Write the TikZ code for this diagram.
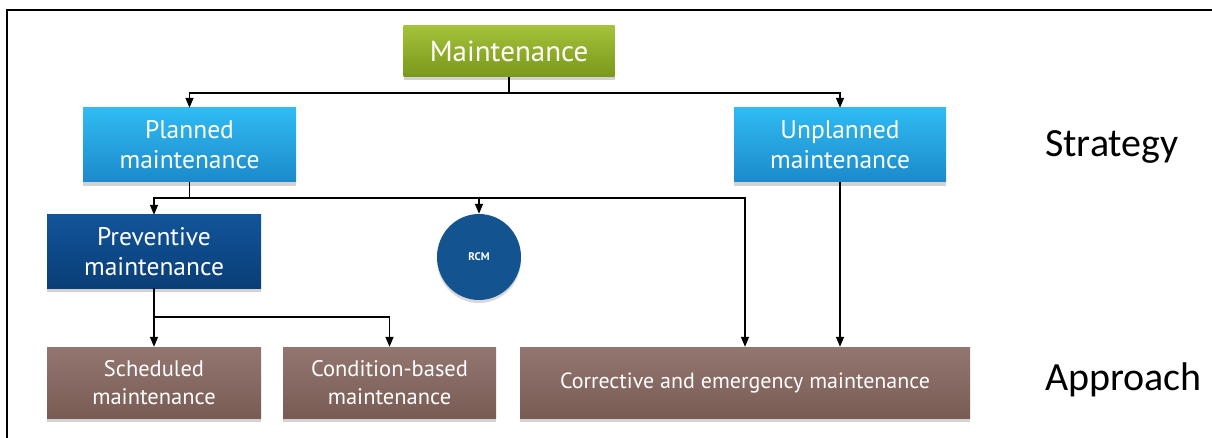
\documentclass[tikz,border=0pt]{standalone}
\usepackage{fontspec}
\setmainfont{PT Sans}
\newfontfamily\labelfont{Carlito}
\usetikzlibrary{arrows.meta,shadows,shapes.geometric}

\definecolor{greenTop}{HTML}{A4C23A}
\definecolor{greenBot}{HTML}{7A981B}
\definecolor{lblueTop}{HTML}{30BBF3}
\definecolor{lblueBot}{HTML}{1B8ACA}
\definecolor{dblueTop}{HTML}{115499}
\definecolor{dblueBot}{HTML}{0A3E77}
\definecolor{brownTop}{HTML}{937670}
\definecolor{brownBot}{HTML}{785C54}
\definecolor{rcmBlue}{HTML}{13538F}

\tikzset{
  box/.style={rectangle, inner sep=0pt, align=center, text=white,
    drop shadow={opacity=0.35, shadow xshift=0pt, shadow yshift=-4pt}},
  greenbox/.style={box, top color=greenTop, bottom color=greenBot},
  lbluebox/.style={box, top color=lblueTop, bottom color=lblueBot},
  dbluebox/.style={box, top color=dblueTop, bottom color=dblueBot},
  brownbox/.style={box, top color=brownTop, bottom color=brownBot},
  conn/.style={draw=black, line width=1.4pt},
  arr/.style={conn, -{Triangle[length=10pt,width=8pt]}},
  sidelabel/.style={font=\labelfont\fontsize{40}{44}\selectfont, text=black,
    inner sep=0pt, anchor=base west}
}

\begin{document}
\begin{tikzpicture}[x=1pt,y=-1pt]
\useasboundingbox (0,0) rectangle (1212,438);
\fill[white] (0,0) rectangle (1212,438);
% outer frame, open to the right and bottom
\draw[line width=1.4pt] (7,440) -- (7,10) -- (1214,10);

% nodes
\node[greenbox, minimum width=211pt, minimum height=51pt,
      font=\fontsize{29}{32}\selectfont] (M) at (509,51) {Maintenance};
\node[lbluebox, minimum width=213pt, minimum height=74pt,
      font=\fontsize{25.5}{30}\selectfont] (P) at (189.5,145) {Planned\\maintenance};
\node[lbluebox, minimum width=212pt, minimum height=74pt,
      font=\fontsize{25.5}{30}\selectfont] (U) at (840,145) {Unplanned\\maintenance};
\node[dbluebox, minimum width=214pt, minimum height=73pt,
      font=\fontsize{25.5}{30}\selectfont] (V) at (154,251.5) {Preventive\\maintenance};
\node[ellipse, inner sep=0pt, minimum width=84pt, minimum height=86pt,
      fill=rcmBlue, text=white, font=\bfseries\fontsize{11}{12}\selectfont,
      drop shadow={opacity=0.3, shadow xshift=0pt, shadow yshift=-3pt}] (R) at (479,257) {RCM};
\node[brownbox, minimum width=214pt, minimum height=71pt,
      font=\fontsize{22.5}{28}\selectfont] (S) at (154,382.5) {Scheduled\\maintenance};
\node[brownbox, minimum width=213pt, minimum height=71pt,
      font=\fontsize{22.5}{28}\selectfont] (C) at (389.5,382.5) {Condition-based\\maintenance};
\node[brownbox, minimum width=450pt, minimum height=71pt,
      font=\fontsize{22}{26}\selectfont] (E) at (745,382.5) {Corrective and emergency maintenance};

\node[sidelabel] (st) at (1045,157) {Strategy};
\node[sidelabel] (ap) at (1045,390) {Approach};

% connectors
\coordinate (mj) at (509,93);
\coordinate (pj) at (189.5,198);
\coordinate (vj) at (154,317);

\draw[conn] (M.south) -- (mj);
\draw[arr] (mj) -| (P.north);
\draw[arr] (mj) -| (U.north);

\draw[conn] (P.south) -- (pj);
\draw[arr] (pj) -| (V.north);
\draw[arr] (pj) -| (R.north);
\draw[arr] (pj) -| (E.north);

\draw[arr] (U.south) -- (U.south |- E.north);

\draw[conn] (V.south) -- (vj);
\draw[arr] (vj) -- (S.north);
\draw[arr] (vj) -| (C.north);
\end{tikzpicture}
\end{document}
